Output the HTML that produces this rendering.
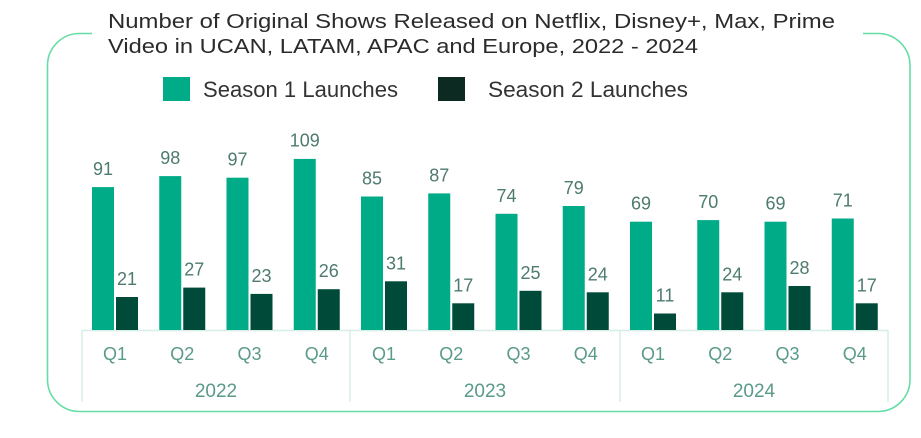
<!DOCTYPE html>
<html><head><meta charset="utf-8"><style>
html,body{margin:0;padding:0;background:#fff;}
svg{display:block;font-family:"Liberation Sans",sans-serif;}
</style></head><body>
<svg width="921" height="438" viewBox="0 0 921 438" xmlns="http://www.w3.org/2000/svg">
<rect width="921" height="438" fill="#fff"/>
<path d="M92,33.5 H80 A32,32 0 0 0 47.5,65.5 V380 A32,32 0 0 0 79.5,411.5 H878 A32,32 0 0 0 910,379.5 V66 A32,32 0 0 0 878,33.5 H863" fill="none" stroke="#66dda6" stroke-width="1.6"/>
<g fill="#2b2b2b" font-size="20">
<text x="108" y="28" textLength="727" lengthAdjust="spacingAndGlyphs">Number of Original Shows Released on Netflix, Disney+, Max, Prime</text>
<text x="108" y="53" textLength="590" lengthAdjust="spacingAndGlyphs">Video in UCAN, LATAM, APAC and Europe, 2022 - 2024</text>
</g>
<rect x="163" y="77" width="27" height="24" fill="#00ab87"/>
<text x="203" y="97" font-size="22" fill="#333" textLength="195" lengthAdjust="spacingAndGlyphs">Season 1 Launches</text>
<rect x="438" y="77" width="27" height="24" fill="#0c2a22"/>
<text x="488" y="97" font-size="22" fill="#333" textLength="200" lengthAdjust="spacingAndGlyphs">Season 2 Launches</text>
<g id="bars"></g>
<line x1="82" y1="330.5" x2="888" y2="330.5" stroke="#d6eee6" stroke-width="1.5"/>
<g stroke="#d6eee6" stroke-width="1.5">
<line x1="82" y1="330" x2="82" y2="402"/>
<line x1="350" y1="330" x2="350" y2="402"/>
<line x1="620" y1="330" x2="620" y2="402"/>
<line x1="888" y1="330" x2="888" y2="402"/>
</g>
<g fill="#00ab87">
<rect x="92" y="187.1" width="22" height="142.9"/>
<rect x="159.25" y="176.1" width="22" height="153.9"/>
<rect x="226.5" y="177.7" width="22" height="152.3"/>
<rect x="293.75" y="158.9" width="22" height="171.1"/>
<rect x="361" y="196.5" width="22" height="133.5"/>
<rect x="428.25" y="193.4" width="22" height="136.6"/>
<rect x="495.5" y="213.8" width="22" height="116.2"/>
<rect x="562.75" y="206" width="22" height="124"/>
<rect x="630" y="221.7" width="22" height="108.3"/>
<rect x="697.25" y="220.1" width="22" height="109.9"/>
<rect x="764.5" y="221.7" width="22" height="108.3"/>
<rect x="831.75" y="218.5" width="22" height="111.5"/>
</g>
<g fill="#004a3a">
<rect x="116" y="297" width="22" height="33"/>
<rect x="183.25" y="287.6" width="22" height="42.4"/>
<rect x="250.5" y="293.9" width="22" height="36.1"/>
<rect x="317.75" y="289.2" width="22" height="40.8"/>
<rect x="385" y="281.3" width="22" height="48.7"/>
<rect x="452.25" y="303.3" width="22" height="26.7"/>
<rect x="519.5" y="290.8" width="22" height="39.2"/>
<rect x="586.75" y="292.3" width="22" height="37.7"/>
<rect x="654" y="313.5" width="22" height="16.5"/>
<rect x="721.25" y="292.3" width="22" height="37.7"/>
<rect x="788.5" y="286" width="22" height="44"/>
<rect x="855.75" y="303.3" width="22" height="26.7"/>
</g>
<g fill="#4e7b6f" font-size="18" text-anchor="middle">
<text x="103" y="175">91</text>
<text x="170.25" y="164">98</text>
<text x="237.5" y="165.7">97</text>
<text x="304.75" y="146.5">109</text>
<text x="372" y="184.5">85</text>
<text x="439.25" y="181.4">87</text>
<text x="506.5" y="201.8">74</text>
<text x="573.75" y="194">79</text>
<text x="641" y="209.7">69</text>
<text x="708.25" y="208.1">70</text>
<text x="775.5" y="209.7">69</text>
<text x="842.75" y="206.5">71</text>
<text x="127" y="285">21</text>
<text x="194.25" y="275.6">27</text>
<text x="261.5" y="281.9">23</text>
<text x="328.75" y="277.2">26</text>
<text x="396" y="269.3">31</text>
<text x="463.25" y="291.3">17</text>
<text x="530.5" y="278.8">25</text>
<text x="597.75" y="280.3">24</text>
<text x="665" y="301.5">11</text>
<text x="732.25" y="280.3">24</text>
<text x="799.5" y="274">28</text>
<text x="866.75" y="291.3">17</text>
</g>
<g fill="#5a9a89" font-size="18" text-anchor="middle">
<text x="115" y="360">Q1</text>
<text x="182.25" y="360">Q2</text>
<text x="249.5" y="360">Q3</text>
<text x="316.75" y="360">Q4</text>
<text x="384" y="360">Q1</text>
<text x="451.25" y="360">Q2</text>
<text x="518.5" y="360">Q3</text>
<text x="585.75" y="360">Q4</text>
<text x="653" y="360">Q1</text>
<text x="720.25" y="360">Q2</text>
<text x="787.5" y="360">Q3</text>
<text x="854.75" y="360">Q4</text>
</g>
<g fill="#5a9a89" font-size="19" text-anchor="middle">
<text x="216" y="397">2022</text>
<text x="485" y="397">2023</text>
<text x="754" y="397">2024</text>
</g>
</svg>
</body></html>
